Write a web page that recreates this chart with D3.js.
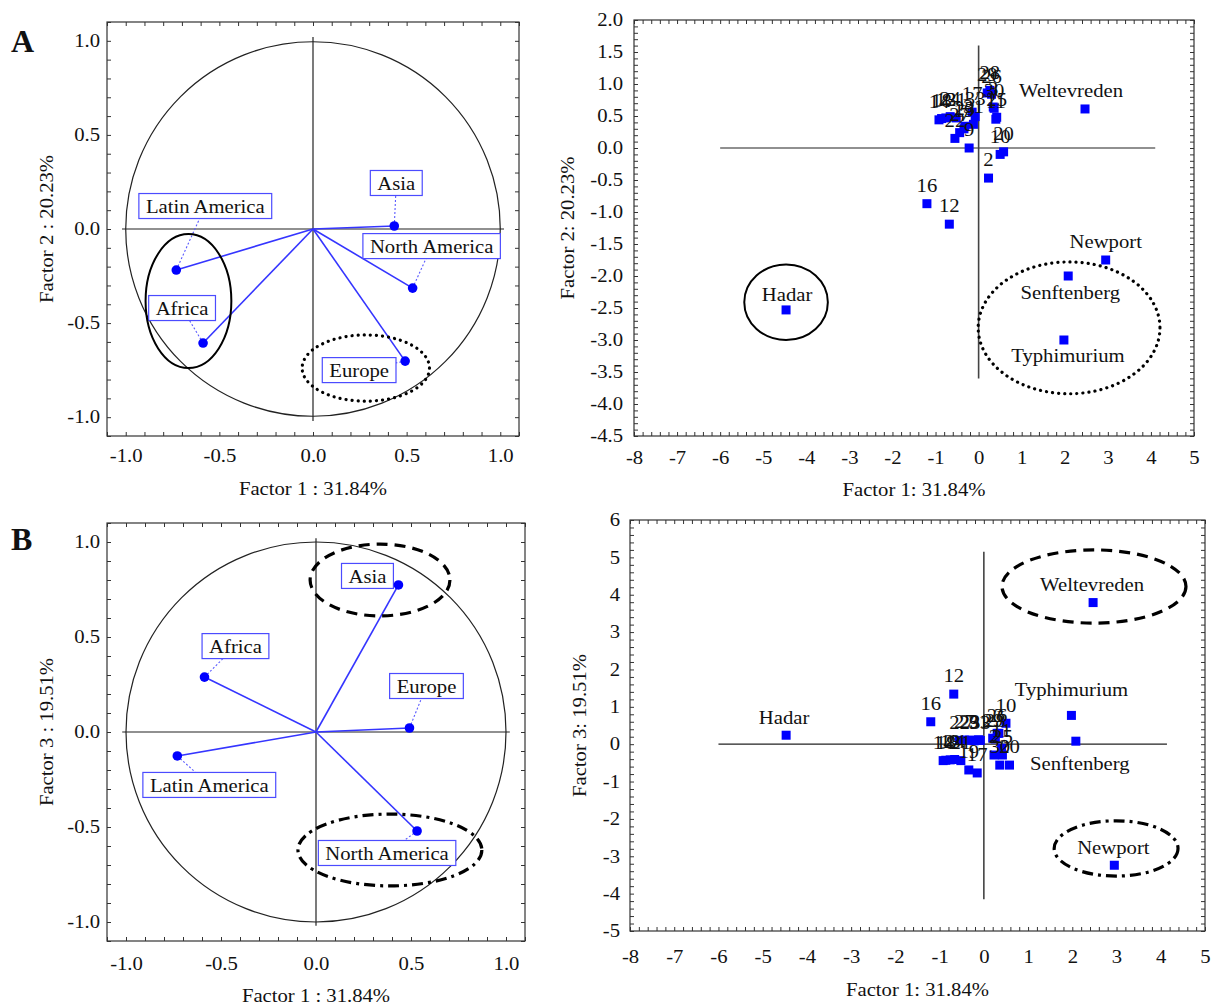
<!DOCTYPE html>
<html>
<head>
<meta charset="utf-8">
<script src="https://cdn.jsdelivr.net/npm/d3@7"></script>
<style>
  body { margin: 0; background: #fff; }
  svg text { font-family: "Liberation Serif", "Times New Roman", serif; fill: #111; }
</style>
</head>
<body>
<svg id="chart" width="1213" height="1006"></svg>
<script>
// DATA: factor loadings of the regions (circle plots)
const regionNames = ["Latin America", "Africa", "Asia", "North America", "Europe"];
const regionF1 = [-0.73, -0.587, 0.434, 0.532, 0.492];
const regionF2 = [-0.218, -0.606, 0.016, -0.314, -0.702];
const regionF3 = [-0.126, 0.289, 0.774, -0.521, 0.021];

// DATA: factor scores of the serotypes (scatter plots)
const seroNames = ["Weltevreden", "Newport", "Senftenberg", "Typhimurium", "Hadar",
    "12", "16", "14", "18", "13", "24", "21", "22", "27", "23", "9", "31", "33",
    "19", "17", "29", "28", "26", "3", "11", "30", "25", "10", "20", "2"];
const seroF1 = [2.47, 2.95, 2.08, 1.98, -4.47,
    -0.68, -1.2, -0.92, -0.86, -0.76, -0.66, -0.52, -0.55, -0.44, -0.32, -0.22, -0.12, -0.08,
    -0.34, -0.15, 0.2, 0.26, 0.3, 0.34, 0.4, 0.36, 0.42, 0.5, 0.58, 0.23];
const seroF2 = [0.61, -1.75, -2.0, -3.0, -2.53,
    -1.19, -0.87, 0.44, 0.46, 0.47, 0.49, 0.47, 0.15, 0.24, 0.34, 0.0, 0.37, 0.49,
    0.3, 0.56, 0.86, 0.9, 0.84, 0.64, 0.45, 0.62, 0.48, -0.1, -0.06, -0.47];
const seroF3 = [3.79, -3.24, 0.08, 0.77, 0.24,
    1.34, 0.6, -0.44, -0.43, -0.42, -0.41, -0.44, 0.1, 0.11, 0.11, 0.09, 0.12, 0.1,
    -0.69, -0.77, 0.16, 0.14, 0.29, 0.29, -0.11, -0.56, -0.29, 0.56, -0.56, -0.29];

// tick labels
const circleTicks = [-1.0, -0.5, 0.0, 0.5, 1.0];
const scoreTicksX = [-8, -7, -6, -5, -4, -3, -2, -1, 0, 1, 2, 3, 4, 5];
const scoreTicksA = [-4.5, -4.0, -3.5, -3.0, -2.5, -2.0, -1.5, -1.0, -0.5, 0.0, 0.5, 1.0, 1.5, 2.0];
const scoreTicksB = [-5, -4, -3, -2, -1, 0, 1, 2, 3, 4, 5, 6];

const SX = 1.15;   // the original text is slightly wide
const blue = "#0000ff";
const svg = d3.select("#chart");

const dashes = { solid: null, dotted: "0.1,6", dashed: "11,7", dashdot: "11,5,3,5" };

function addText(g, x, y, str, size, anchor, rotate) {
    return g.append("text")
        .attr("transform", `translate(${x},${y})` + (rotate ? " rotate(-90)" : "") + ` scale(${SX},1)`)
        .attr("text-anchor", anchor || "middle")
        .attr("dy", "0.35em")
        .attr("font-size", size || 18)
        .text(str);
}

function cleanAxis(sel) {
    sel.select(".domain").remove();
    sel.selectAll("line").attr("stroke", "#333");
}

// FRAME, TICKS AND AXIS TITLES of one panel
function drawFrame(p) {
    const x = d3.scaleLinear().domain(p.xDomain).range(p.xRange);
    const y = d3.scaleLinear().domain(p.yDomain).range(p.yRange);
    const g = svg.append("g");

    g.append("rect")
        .attr("x", p.xRange[0]).attr("y", p.yRange[1])
        .attr("width", p.xRange[1] - p.xRange[0])
        .attr("height", p.yRange[0] - p.yRange[1])
        .attr("fill", "none").attr("stroke", "#333").attr("stroke-width", 1.2);

    const xMinor = d3.range(p.xDomain[0], p.xDomain[1] + 1e-6, p.xStep);
    const yMinor = d3.range(p.yDomain[0], p.yDomain[1] + 1e-6, p.yStep);

    g.append("g").attr("transform", `translate(0,${p.yRange[0]})`)
        .call(d3.axisBottom(x).tickValues(xMinor).tickSize(-4).tickFormat("")).call(cleanAxis);
    g.append("g").attr("transform", `translate(0,${p.yRange[1]})`)
        .call(d3.axisTop(x).tickValues(xMinor).tickSize(-4).tickFormat("")).call(cleanAxis);
    g.append("g").attr("transform", `translate(${p.xRange[0]},0)`)
        .call(d3.axisLeft(y).tickValues(yMinor).tickSize(-4).tickFormat("")).call(cleanAxis);
    g.append("g").attr("transform", `translate(${p.xRange[1]},0)`)
        .call(d3.axisRight(y).tickValues(yMinor).tickSize(-4).tickFormat("")).call(cleanAxis);

    // tick labels
    const xl = g.append("g").attr("transform", `translate(0,${p.yRange[0]})`)
        .call(d3.axisBottom(x).tickValues(p.xTicks).tickSize(0).tickPadding(p.xPad).tickFormat(p.xFmt));
    const yl = g.append("g").attr("transform", `translate(${p.xRange[0]},0)`)
        .call(d3.axisLeft(y).tickValues(p.yTicks).tickSize(0).tickPadding(p.yPad / SX).tickFormat(p.yFmt));
    [xl, yl].forEach(a => {
        a.select(".domain").remove();
        a.selectAll("text")
            .attr("font-size", 18)
            .attr("font-family", "Liberation Serif, Times New Roman, serif")
            .attr("fill", "#111")
            .attr("transform", `scale(${SX},1)`);
    });

    addText(g, (p.xRange[0] + p.xRange[1]) / 2, p.xTitleY, p.xTitle, 18);
    addText(g, p.yTitleX, (p.yRange[0] + p.yRange[1]) / 2, p.yTitle, 18, "middle", true);

    return { g, x, y };
}

function drawEllipses(g, x, y, list) {
    list.forEach(e => {
        g.append("ellipse")
            .attr("cx", x(e.c[0])).attr("cy", y(e.c[1]))
            .attr("rx", Math.abs(x(e.r[0]) - x(0)))
            .attr("ry", Math.abs(y(e.r[1]) - y(0)))
            .attr("fill", "none").attr("stroke", "#000")
            .attr("stroke-width", e.style === "solid" ? 2 : 3.2)
            .attr("stroke-linecap", e.style === "dotted" ? "round" : "butt")
            .attr("stroke-dasharray", dashes[e.style]);
    });
}

// CIRCLE OF CORRELATIONS
function drawCircle(p, yVals, boxOffsets, ellipses) {
    const { g, x, y } = drawFrame(p);

    g.append("circle")
        .attr("cx", x(0)).attr("cy", y(0)).attr("r", x(1) - x(0))
        .attr("fill", "none").attr("stroke", "#222").attr("stroke-width", 1.2);
    g.append("line").attr("x1", x(-1.02)).attr("x2", x(1.02)).attr("y1", y(0)).attr("y2", y(0))
        .attr("stroke", "#222").attr("stroke-width", 1.2);
    g.append("line").attr("x1", x(0)).attr("x2", x(0)).attr("y1", y(-1.02)).attr("y2", y(1.02))
        .attr("stroke", "#222").attr("stroke-width", 1.2);

    const pts = regionNames.map((n, i) => ({ name: n, px: x(regionF1[i]), py: y(yVals[i]), off: boxOffsets[n] }));

    // vectors
    g.selectAll(".vec").data(pts).enter().append("line")
        .attr("x1", x(0)).attr("y1", y(0))
        .attr("x2", d => d.px).attr("y2", d => d.py)
        .attr("stroke", "#3535ff").attr("stroke-width", 1.6);

    // connectors to the label boxes
    g.selectAll(".con").data(pts).enter().append("line")
        .attr("x1", d => d.px).attr("y1", d => d.py)
        .attr("x2", d => d.px + d.off[0]).attr("y2", d => d.py + d.off[1])
        .attr("stroke", "#5a5aff").attr("stroke-width", 1.1).attr("stroke-dasharray", "2,2");

    pts.forEach(d => {
        const cx = d.px + d.off[0], cy = d.py + d.off[1];
        const box = g.append("rect").attr("fill", "#fff").attr("stroke", "#4b4bff").attr("stroke-width", 1.2);
        const t = addText(g, cx, cy + 1, d.name, 18);
        const w = t.node().getComputedTextLength() * SX + 14;
        box.attr("x", cx - w / 2).attr("y", cy - 12.5).attr("width", w).attr("height", 25);
    });

    g.selectAll(".pt").data(pts).enter().append("circle")
        .attr("cx", d => d.px).attr("cy", d => d.py).attr("r", 4.8)
        .attr("fill", blue);

    drawEllipses(g, x, y, ellipses);
}

// SCORE PLOT
function drawScores(p, yVals, labelOffsets, axisExtent, ellipses) {
    const { g, x, y } = drawFrame(p);

    g.append("line").attr("x1", x(axisExtent.x[0])).attr("x2", x(axisExtent.x[1]))
        .attr("y1", y(0)).attr("y2", y(0)).attr("stroke", "#222").attr("stroke-width", 1.2);
    g.append("line").attr("x1", x(0)).attr("x2", x(0))
        .attr("y1", y(axisExtent.y[0])).attr("y2", y(axisExtent.y[1])).attr("stroke", "#444").attr("stroke-width", 1.6);

    const pts = seroNames.map((n, i) => ({ name: n, px: x(seroF1[i]), py: y(yVals[i]) }));

    g.selectAll(".sq").data(pts).enter().append("rect")
        .attr("x", d => d.px - 4.5).attr("y", d => d.py - 4.5)
        .attr("width", 9).attr("height", 9)
        .attr("fill", blue);

    pts.forEach(d => {
        const off = labelOffsets[d.name] || [0, -18];
        addText(g, d.px + off[0], d.py + off[1], d.name, 18);
    });

    drawEllipses(g, x, y, ellipses);
}

// PANEL A
drawCircle({
    xDomain: [-1.1, 1.1], xRange: [107, 519], yDomain: [-1.1, 1.1], yRange: [436, 22],
    xStep: 0.1, yStep: 0.1, xTicks: circleTicks, yTicks: circleTicks,
    xFmt: d => d.toFixed(1), yFmt: d => d.toFixed(1), xPad: 13, yPad: 7,
    xTitle: "Factor 1 : 31.84%", xTitleY: 489, yTitle: "Factor 2 : 20.23%", yTitleX: 47
}, regionF2, {
    "Latin America": [29, -64], "Africa": [-21, -35], "Asia": [2, -43],
    "North America": [19, -42], "Europe": [-46, 9]
}, [
    { c: [-0.665, -0.383], r: [0.229, 0.356], style: "solid" },
    { c: [0.282, -0.739], r: [0.34, 0.176], style: "dotted" }
]);

drawScores({
    xDomain: [-8, 5], xRange: [634, 1194], yDomain: [-4.5, 2], yRange: [436, 20],
    xStep: 0.2, yStep: 0.1, xTicks: scoreTicksX, yTicks: scoreTicksA,
    xFmt: d => String(d), yFmt: d => d.toFixed(1), xPad: 15, yPad: 11,
    xTitle: "Factor 1: 31.84%", xTitleY: 490, yTitle: "Factor 2: 20.23%", yTitleX: 568
}, seroF2, {
    "Weltevreden": [-14, -18], "Newport": [0, -18], "Senftenberg": [2, 17],
    "Typhimurium": [4, 16], "Hadar": [1, -15]
}, { x: [-6, 4.1], y: [-3.6, 1.6] }, [
    { c: [-4.47, -2.41], r: [0.97, 0.59], style: "solid" },
    { c: [2.1, -2.81], r: [2.11, 1.03], style: "dotted" }
]);

// PANEL B
drawCircle({
    xDomain: [-1.1, 1.1], xRange: [107, 525], yDomain: [-1.1, 1.1], yRange: [941, 523],
    xStep: 0.1, yStep: 0.1, xTicks: circleTicks, yTicks: circleTicks,
    xFmt: d => d.toFixed(1), yFmt: d => d.toFixed(1), xPad: 16, yPad: 7,
    xTitle: "Factor 1 : 31.84%", xTitleY: 996, yTitle: "Factor 3 : 19.51%", yTitleX: 47
}, regionF3, {
    "Asia": [-31, -9], "Africa": [31, -31], "Europe": [17, -42],
    "Latin America": [32, 29], "North America": [-30, 22]
}, [
    { c: [0.337, 0.8], r: [0.368, 0.189], style: "dashed" },
    { c: [0.389, -0.621], r: [0.484, 0.189], style: "dashdot" }
]);

drawScores({
    xDomain: [-8, 5], xRange: [630, 1205], yDomain: [-5, 6], yRange: [931, 520],
    xStep: 0.2, yStep: 0.2, xTicks: scoreTicksX, yTicks: scoreTicksB,
    xFmt: d => String(d), yFmt: d => String(d), xPad: 19, yPad: 10,
    xTitle: "Factor 1: 31.84%", xTitleY: 990, yTitle: "Factor 3: 19.51%", yTitleX: 580
}, seroF3, {
    "Weltevreden": [-1, -18], "Typhimurium": [0, -26], "Senftenberg": [4, 22],
    "Newport": [-1, -18], "Hadar": [-2, -18]
}, { x: [-6, 4.14], y: [-4.15, 5.15] }, [
    { c: [2.49, 4.22], r: [2.08, 0.98], style: "dashed" },
    { c: [2.99, -2.79], r: [1.4, 0.74], style: "dashdot" }
]);

// panel letters
svg.append("text").attr("x", 11).attr("y", 52).attr("font-size", 32).attr("font-weight", "bold").text("A");
svg.append("text").attr("x", 11).attr("y", 550).attr("font-size", 32).attr("font-weight", "bold").text("B");
</script>
</body>
</html>
